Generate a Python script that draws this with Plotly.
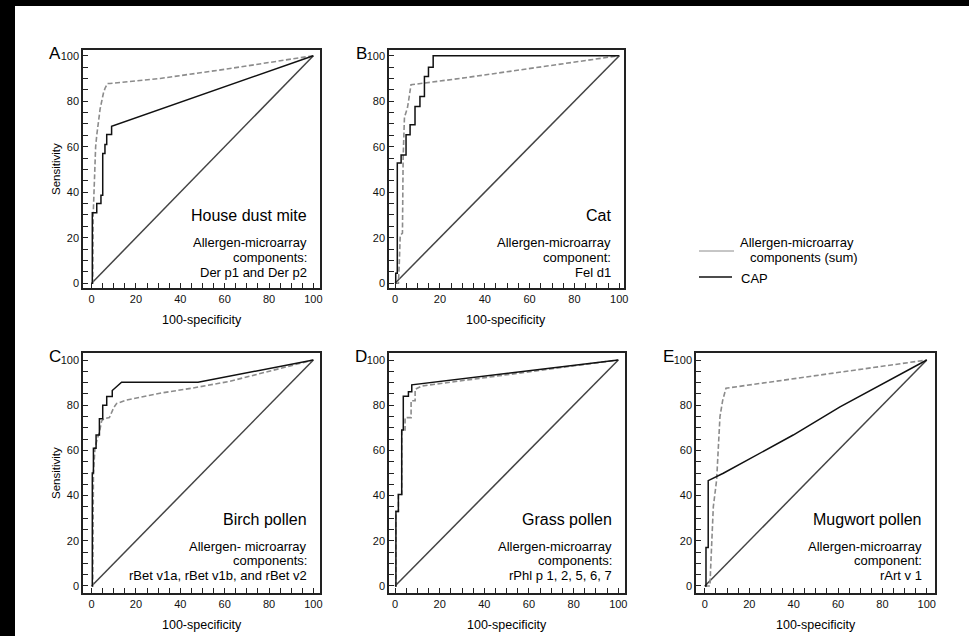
import plotly.graph_objects as go

W, H = 969, 636

# ---------------- data ----------------
panels = ["A", "B", "C", "D", "E"]

a_cap_x = [0, 0.3, 0.3, 2.3, 2.3, 4.2, 4.2, 5.0, 5.0, 6.0, 6.0, 6.8, 6.8, 9.0, 9.0, 100]
a_cap_y = [0, 0, 31, 31, 35, 35, 38.7, 38.7, 57, 57, 61, 61, 65.4, 65.4, 69, 100]
a_arr_x = [0, 0.5, 0.7, 1.2, 1.8, 2.3, 3.0, 3.8, 5.3, 6.0, 7.1, 8.3, 30.9, 60, 100]
a_arr_y = [0, 0, 30, 48, 60, 65, 70, 76.5, 83.5, 85.6, 87.8, 87.8, 90, 94, 100]

b_cap_x = [0, 0.3, 0.3, 1.0, 1.0, 2.7, 2.7, 4.9, 4.9, 6.7, 6.7, 8.9, 8.9, 11.1, 11.1, 13.1, 13.1, 14.9, 14.9, 17.0, 17.0, 100]
b_cap_y = [0, 0, 4.4, 4.4, 52.8, 52.8, 56.4, 56.4, 65.2, 65.2, 69.6, 69.6, 77.7, 77.7, 82.1, 82.1, 90.9, 90.9, 94.9, 94.9, 100, 100]
b_arr_x = [0, 1.5, 1.9, 2.3, 3.3, 3.6, 4.2, 5.5, 6.0, 7.1, 31.2, 100]
b_arr_y = [0, 0, 9, 21, 22, 55, 73, 77, 80, 87.2, 90.3, 100]

c_cap_x = [0, 0.3, 0.3, 0.8, 0.8, 2.0, 2.0, 3.5, 3.5, 5.0, 5.0, 6.8, 6.8, 9.3, 9.3, 13.5, 48, 100]
c_cap_y = [0, 0, 50, 50, 61, 61, 66.8, 66.8, 74, 74, 80, 80, 83.8, 83.8, 86.5, 90.2, 90.2, 100]
c_arr_x = [0, 0.5, 0.8, 1.5, 2.5, 3.5, 4.5, 5.5, 8.0, 9.0, 10.0, 11.3, 15.8, 30.8, 45, 62, 100]
c_arr_y = [0, 0, 50, 61, 65, 68, 73, 74, 74.5, 77, 79, 80.8, 82.3, 85.3, 87.5, 90.5, 100]

d_cap_x = [0, 0.4, 0.4, 1.5, 1.5, 3.0, 3.0, 3.7, 3.7, 6.0, 6.0, 7.5, 7.5, 100]
d_cap_y = [0, 0, 33, 33, 40.5, 40.5, 69, 69, 84, 84, 86, 86, 89, 100]
d_arr_x = [0, 0.4, 0.4, 1.5, 1.5, 3.0, 3.0, 4.5, 4.5, 7.2, 7.2, 9.0, 9.0, 12.0, 100]
d_arr_y = [0, 0, 33, 33, 40.5, 40.5, 69, 69, 74.5, 74.5, 82, 82, 87, 88.5, 100]

e_cap_x = [0, 0.5, 0.5, 1.5, 1.5, 8.3, 39.8, 60.9, 100]
e_cap_y = [0, 0, 17, 17, 46.6, 49.9, 66.8, 79.3, 100]
e_arr_x = [0, 2.3, 2.6, 3.8, 5.3, 6.8, 8.0, 9.5, 100]
e_arr_y = [0, 0, 8, 35, 47, 75, 82, 87.5, 100]

cap_x = [a_cap_x, b_cap_x, c_cap_x, d_cap_x, e_cap_x]
cap_y = [a_cap_y, b_cap_y, c_cap_y, d_cap_y, e_cap_y]
arr_x = [a_arr_x, b_arr_x, c_arr_x, d_arr_x, e_arr_x]
arr_y = [a_arr_y, b_arr_y, c_arr_y, d_arr_y, e_arr_y]
diag = [0, 100]

titles = ["House dust mite", "Cat", "Birch pollen", "Grass pollen", "Mugwort pollen"]
sub1 = ["Allergen-microarray", "Allergen-microarray", "Allergen- microarray",
        "Allergen-microarray", "Allergen-microarray"]
sub2 = ["components:", "component:", "components:", "components:", "component:"]
sub3 = ["Der p1 and Der p2", "Fel d1", "rBet v1a, rBet v1b, and rBet v2",
        "rPhl p 1, 2, 5, 6, 7", "rArt v 1"]
tick_vals = [0, 20, 40, 60, 80, 100]
tick_text = ["0", "20", "40", "60", "80", "100"]

# ---------------- layout geometry (pixels) ----------------
frames = [  # left, right, top, bottom
    (83, 320, 50, 288),
    (389, 624, 50, 288),
    (83, 320, 353, 593),
    (389, 625, 353, 593),
    (696, 935, 353, 593),
]
xr = [(-3.9, 103.0), (-2.7, 102.1), (-3.9, 103.0), (-2.7, 103.0), (-4.0, 103.7)]
yr = [(-2.1, 102.5), (-2.1, 102.5), (-3.1, 103.1), (-3.1, 103.1), (-3.1, 103.1)]

FONT = "Liberation Sans, Arial, sans-serif"

def px(x):
    return x / W

def py(y):
    return 1 - y / H

fig = go.Figure()
layout = dict(
    width=W, height=H, margin=dict(l=0, r=0, t=0, b=0, autoexpand=False),
    paper_bgcolor="black", plot_bgcolor="white", showlegend=False,
    font=dict(family=FONT, color="black"),
)

annotations = []
shapes = []
# white page area (scan border stays black at top and left)
shapes.append(dict(type="rect", xref="paper", yref="paper", x0=px(15), x1=1, y0=0, y1=py(6),
                   fillcolor="white", line=dict(width=0), layer="below"))

for i in range(5):
    n = "" if i == 0 else str(i + 1)
    xa, ya = "x" + n, "y" + n
    l, r, t, b = frames[i]
    fig.add_trace(go.Scatter(x=diag, y=diag, mode="lines", xaxis=xa, yaxis=ya,
                             line=dict(color="#444444", width=1.5)))
    fig.add_trace(go.Scatter(x=arr_x[i], y=arr_y[i], mode="lines", xaxis=xa, yaxis=ya,
                             line=dict(color="#8c8c8c", width=1.6, dash="5px,2.5px")))
    fig.add_trace(go.Scatter(x=cap_x[i], y=cap_y[i], mode="lines", xaxis=xa, yaxis=ya,
                             line=dict(color="#111111", width=1.5)))
    common = dict(showline=True, linecolor="#222", linewidth=1.5, mirror=True,
                  ticks="inside", ticklen=5, tickwidth=1.2, tickcolor="#222",
                  tickvals=tick_vals, ticktext=tick_text, showgrid=False, zeroline=False,
                  tickfont=dict(size=11, family=FONT, color="#111"),
                  minor=dict(ticks="inside", dtick=5, tick0=0, ticklen=5, tickwidth=1.2,
                             tickcolor="#222", showgrid=False))
    layout["xaxis" + n] = dict(domain=[px(l), px(r)], range=list(xr[i]), anchor=ya, **common)
    layout["yaxis" + n] = dict(domain=[py(b), py(t)], range=list(yr[i]), anchor=xa, **common)

    cx = (l + r) / 2
    annotations.append(dict(text="100-specificity", x=px(cx), y=py(b + 32), xref="paper", yref="paper",
                            showarrow=False, font=dict(size=12.5), xanchor="center", yanchor="middle"))
    annotations.append(dict(text=panels[i], x=px(l - 28), y=py(t + 3), xref="paper", yref="paper",
                            showarrow=False, font=dict(size=17), xanchor="center", yanchor="middle"))
    right = r - 11
    annotations.append(dict(text=titles[i], x=px(right), y=py(t + 166), xref="paper", yref="paper",
                            showarrow=False, font=dict(size=16), xanchor="right", yanchor="middle"))
    for k, s in enumerate([sub1[i], sub2[i], sub3[i]]):
        annotations.append(dict(text=s, x=px(right), y=py(t + 193 + 14.5 * k), xref="paper", yref="paper",
                                showarrow=False, font=dict(size=13), xanchor="right", yanchor="middle"))

for (l, r, t, b) in [frames[0], frames[2]]:
    annotations.append(dict(text="Sensitivity", x=px(56), y=py((t + b) / 2), xref="paper", yref="paper",
                            showarrow=False, textangle=-90, font=dict(size=11.5),
                            xanchor="center", yanchor="middle"))

# legend
shapes.append(dict(type="line", xref="paper", yref="paper", x0=px(699), x1=px(734), y0=py(251), y1=py(251),
                   line=dict(color="#8c8c8c", width=1)))
shapes.append(dict(type="line", xref="paper", yref="paper", x0=px(699), x1=px(732), y0=py(277), y1=py(277),
                   line=dict(color="#111", width=1.5)))
annotations.append(dict(text="Allergen-microarray", x=px(738), y=py(243), xref="paper", yref="paper",
                        showarrow=False, font=dict(size=13), xanchor="left", yanchor="middle"))
annotations.append(dict(text="components (sum)", x=px(748), y=py(257), xref="paper", yref="paper",
                        showarrow=False, font=dict(size=13), xanchor="left", yanchor="middle"))
annotations.append(dict(text="CAP", x=px(739), y=py(278.5), xref="paper", yref="paper",
                        showarrow=False, font=dict(size=13), xanchor="left", yanchor="middle"))

layout["annotations"] = annotations
layout["shapes"] = shapes
fig.update_layout(**layout)
fig.write_html("out.html")
